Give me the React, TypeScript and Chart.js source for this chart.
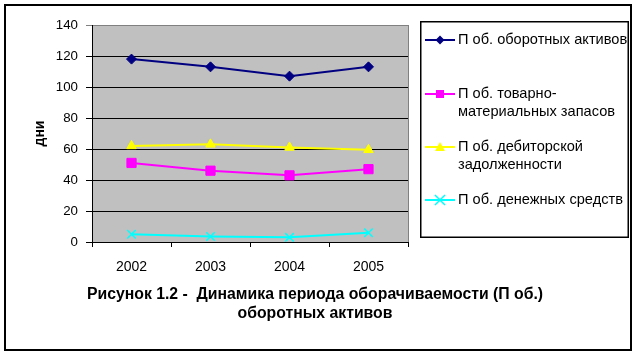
import React, { useEffect, useRef } from "react";
import { Chart, registerables } from "chart.js";

Chart.register(...registerables);

const categories = ["2002", "2003", "2004", "2005"];
const turnoverAssets = [118, 113, 107, 113];
const inventories = [51, 46, 43, 47];
const receivables = [62, 63, 61, 59.5];
const cash = [5, 3.5, 3, 6];

const yMin = 0;
const yMax = 140;
const yStep = 20;

const yTitle = "дни";
const legendLabels = [
  ["П об. оборотных активов"],
  ["П об. товарно-", "материальных запасов"],
  ["П об. дебиторской", "задолженности"],
  ["П об. денежных средств"],
];
const captionLines = [
  "Рисунок 1.2 -  Динамика периода оборачиваемости (П об.)",
  "оборотных активов",
];

const FONT = "'Liberation Sans', Arial, sans-serif";

type Marker = "diamond" | "square" | "triangle" | "x";
const seriesStyle: { color: string; marker: Marker }[] = [
  { color: "#000080", marker: "diamond" },
  { color: "#FF00FF", marker: "square" },
  { color: "#FFFF00", marker: "triangle" },
  { color: "#00FFFF", marker: "x" },
];
const pointStyleMap: Record<Marker, any> = {
  diamond: "rectRot",
  square: "rect",
  triangle: "triangle",
  x: "crossRot",
};
const pointRadius: Record<Marker, number> = {
  diamond: 5,
  square: 6.5,
  triangle: 5.5,
  x: 6,
};

function drawMarker(ctx: CanvasRenderingContext2D, m: Marker, x: number, y: number, color: string) {
  ctx.save();
  ctx.fillStyle = color;
  ctx.strokeStyle = color;
  ctx.lineWidth = 1.5;
  ctx.beginPath();
  if (m === "diamond") {
    const r = 4.5;
    ctx.moveTo(x, y - r);
    ctx.lineTo(x + r, y);
    ctx.lineTo(x, y + r);
    ctx.lineTo(x - r, y);
    ctx.closePath();
    ctx.fill();
  } else if (m === "square") {
    ctx.rect(x - 4, y - 4, 8, 8);
    ctx.fill();
  } else if (m === "triangle") {
    ctx.moveTo(x, y - 5);
    ctx.lineTo(x + 5, y + 4);
    ctx.lineTo(x - 5, y + 4);
    ctx.closePath();
    ctx.fill();
  } else {
    const r = 5;
    ctx.moveTo(x - r, y - r);
    ctx.lineTo(x + r, y + r);
    ctx.moveTo(x + r, y - r);
    ctx.lineTo(x - r, y + r);
    ctx.stroke();
  }
  ctx.restore();
}

const decorPlugin = {
  id: "decor",
  beforeDraw(chart: any) {
    const { ctx, chartArea: a } = chart;
    ctx.save();
    ctx.fillStyle = "#FFFFFF";
    ctx.fillRect(0, 0, chart.width, chart.height);
    ctx.fillStyle = "#C0C0C0";
    ctx.fillRect(a.left, a.top, a.right - a.left, a.bottom - a.top);
    ctx.restore();
  },
  beforeDatasetsDraw(chart: any) {
    const { ctx, chartArea: a } = chart;
    ctx.save();
    ctx.strokeStyle = "#808080";
    ctx.lineWidth = 1;
    ctx.beginPath();
    ctx.moveTo(Math.round(a.right) + 0.5, a.top);
    ctx.lineTo(Math.round(a.right) + 0.5, a.bottom);
    ctx.stroke();
    ctx.restore();
  },
  afterDraw(chart: any) {
    const { ctx } = chart;
    ctx.save();
    // outer frame
    ctx.strokeStyle = "#000";
    ctx.lineWidth = 2;
    ctx.strokeRect(5, 5, 626, 345);

    // legend box
    ctx.lineWidth = 1.5;
    ctx.fillStyle = "#FFFFFF";
    ctx.fillRect(421, 22, 207, 215);
    ctx.strokeRect(420.75, 21.75, 207.5, 215.5);

    const rowY = [40, 94, 147, 200];
    const lineGap = 18;
    ctx.font = `14.6px ${FONT}`;
    ctx.textBaseline = "middle";
    ctx.textAlign = "left";
    chart.data.datasets.forEach((ds: any, i: number) => {
      const st = seriesStyle[i];
      const y = rowY[i];
      ctx.strokeStyle = st.color;
      ctx.lineWidth = 2;
      ctx.beginPath();
      ctx.moveTo(425, y);
      ctx.lineTo(455, y);
      ctx.stroke();
      drawMarker(ctx, st.marker, 440, y, st.color);
      ctx.fillStyle = "#000";
      legendLabels[i].forEach((t, j) => {
        ctx.fillText(t, 458, y + j * lineGap);
      });
    });

    // caption
    ctx.font = `bold 15.8px ${FONT}`;
    ctx.textAlign = "center";
    ctx.fillStyle = "#000";
    ctx.fillText(captionLines[0], 315, 295);
    ctx.fillText(captionLines[1], 315, 314);
    ctx.restore();
  },
};

export default function App() {
  const ref = useRef<HTMLCanvasElement>(null);
  useEffect(() => {
    const canvas = ref.current!;
    const seriesData = [turnoverAssets, inventories, receivables, cash];
    const chart = new Chart(canvas, {
      type: "line",
      data: {
        labels: categories,
        datasets: seriesData.map((d, i) => {
          const st = seriesStyle[i];
          return {
            label: legendLabels[i].join(" "),
            data: d,
            borderColor: st.color,
            backgroundColor: st.color,
            borderWidth: 2,
            pointStyle: pointStyleMap[st.marker],
            pointRadius: pointRadius[st.marker],
            pointBorderWidth: st.marker === "x" ? 1.5 : 1,
            pointBorderColor: st.color,
            pointBackgroundColor: st.color,
            tension: 0,
            fill: false,
          } as any;
        }),
      },
      options: {
        animation: false,
        responsive: false,
        devicePixelRatio: 1,
        layout: { padding: { top: 25, right: 228, left: 0, bottom: 0 } },
        plugins: {
          legend: { display: false },
          tooltip: { enabled: false },
          title: { display: false },
        },
        scales: {
          x: {
            offset: true,
            grid: {
              offset: true,
              drawOnChartArea: false,
              drawTicks: true,
              tickLength: 5,
              color: "#000",
            },
            border: { color: "#000", width: 1 },
            ticks: {
              color: "#000",
              font: { family: FONT, size: 14 },
              padding: 12,
              maxRotation: 0,
            },
            afterFit: (s: any) => {
              s.height = 113;
            },
          },
          y: {
            min: yMin,
            max: yMax,
            ticks: {
              stepSize: yStep,
              color: "#000",
              font: { family: FONT, size: 13.3 },
              padding: 8,
            },
            grid: {
              color: (c: any) => (c.tick && c.tick.value === yMax ? "#808080" : "#000"),
              tickLength: 6,
              drawTicks: true,
            },
            border: { color: "#000", width: 1 },
            title: {
              display: true,
              text: yTitle,
              color: "#000",
              font: { family: FONT, size: 14, weight: "bold" },
              padding: { top: 32, bottom: 0 },
            },
            afterFit: (s: any) => {
              s.width = 92;
            },
          },
        },
      },
      plugins: [decorPlugin],
    });
    return () => chart.destroy();
  }, []);
  return (
    <canvas
      ref={ref}
      width={636}
      height={355}
      style={{ position: "absolute", left: 0, top: 0, width: 636, height: 355 }}
    />
  );
}
